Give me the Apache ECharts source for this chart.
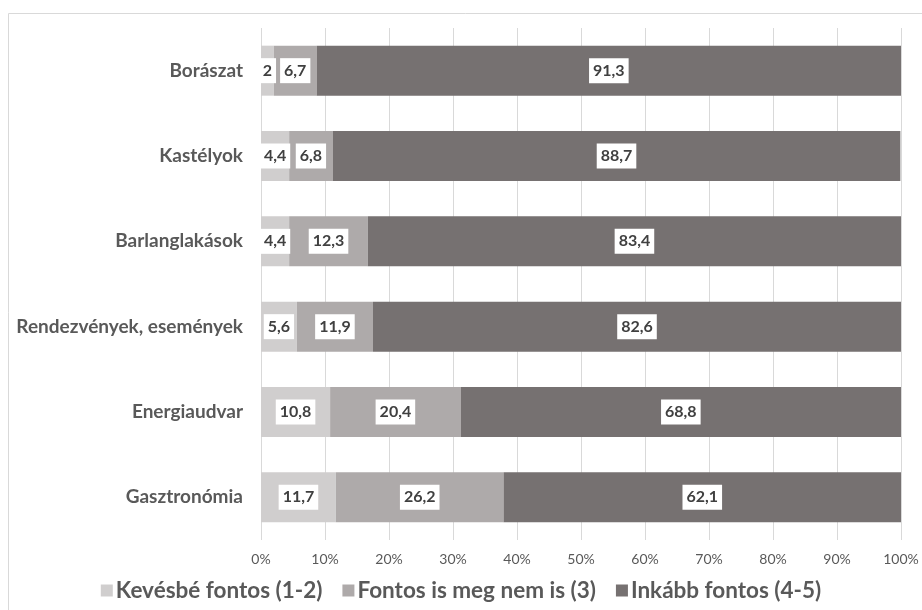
<!DOCTYPE html>
<html><head><meta charset="utf-8">
<script src="https://cdn.jsdelivr.net/npm/echarts@6/dist/echarts.min.js"></script>
<style>html,body{margin:0;padding:0;background:#fff}#c{width:922px;height:610px}</style>
</head><body><div id="c"></div>
<script>
const categories = ['Borászat','Kastélyok','Barlanglakások','Rendezvények, események','Energiaudvar','Gasztronómia'];
const seriesNames = ['Kevésbé fontos (1-2)','Fontos is meg nem is (3)','Inkább fontos (4-5)'];
const low = [2, 4.4, 4.4, 5.6, 10.8, 11.7];
const mid = [6.7, 6.8, 12.3, 11.9, 20.4, 26.2];
const high = [91.3, 88.7, 83.4, 82.6, 68.8, 62.1];
const colors = ['#d0cece','#aeaaaa','#767171'];
const FONT = 'Lato';
const chart = echarts.init(document.getElementById('c'));
const label = {
  show: true, position: 'inside',
  formatter: p => String(p.value).replace('.', ','),
  backgroundColor: '#fff', padding: [5,4,4,4],
  color: '#404040', fontWeight: 'bold', fontSize: 16, fontFamily: FONT
};
chart.setOption({
  animation: false,
  textStyle: {fontFamily: FONT},
  graphic: [{type:'rect', shape:{x:8.5,y:13.5,width:940,height:640}, style:{fill:'none', stroke:'#d9d9d9', lineWidth:1}, silent:true}],
  grid: {left: 261, right: 21, top: 28, bottom: 70},
  legend: {
    bottom: 3, left: 'center', icon: 'rect', itemWidth: 12, itemHeight: 12, itemGap: 20,
    textStyle: {fontSize: 22.5, fontWeight: 'bold', color: '#595959', fontFamily: FONT, padding: [0,0,0,-2]}
  },
  xAxis: {
    type: 'value', min: 0, max: 100, interval: 10,
    axisLabel: {formatter: '{value}%', color: '#595959', fontSize: 14, margin: 12, fontFamily: FONT},
    splitLine: {lineStyle: {color: '#d9d9d9'}},
    axisLine: {show: false}, axisTick: {show: false}
  },
  yAxis: {
    type: 'category', data: categories, inverse: true,
    axisLabel: {color: '#595959', fontSize: 19, fontWeight: 'bold', margin: 18, fontFamily: FONT},
    axisLine: {show: false}, axisTick: {show: false}
  },
  series: [low, mid, high].map((d, i) => ({
    name: seriesNames[i], type: 'bar', stack: 'total', data: d, barWidth: 50,
    itemStyle: {color: colors[i]}, label: label
  }))
});
</script></body></html>
